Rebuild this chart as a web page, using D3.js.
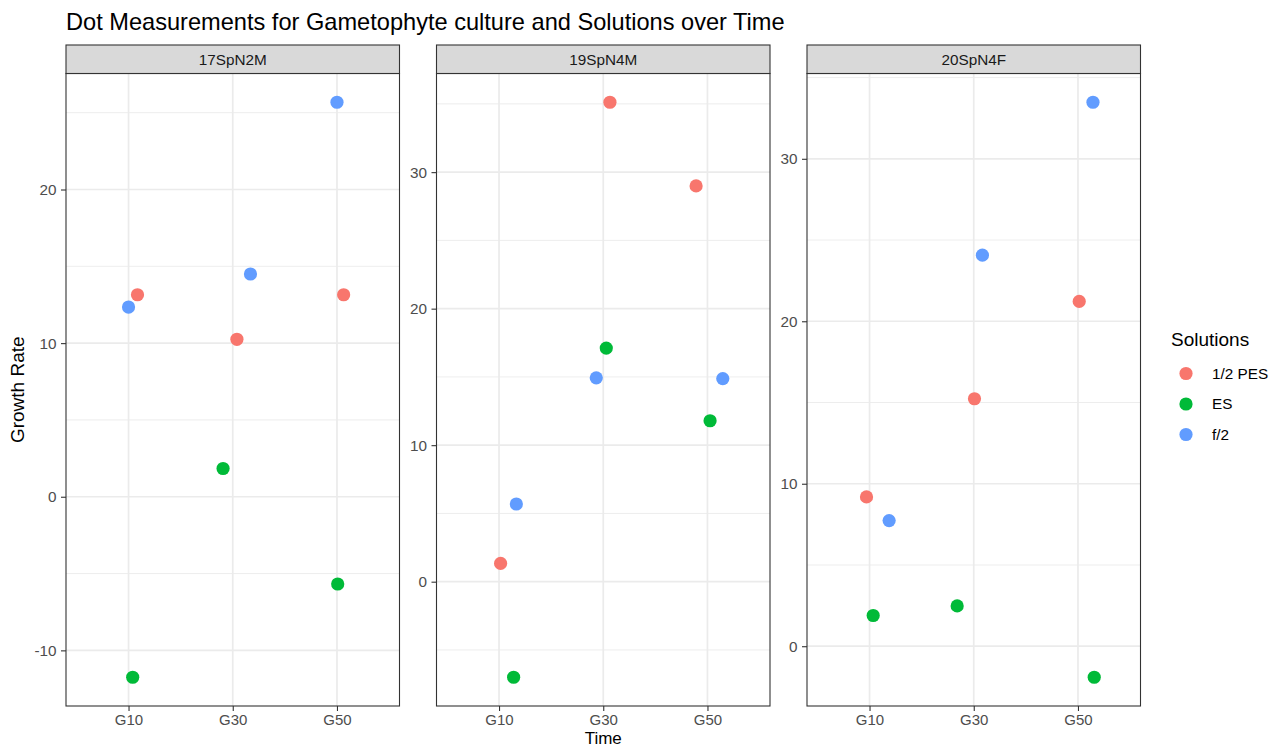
<!DOCTYPE html>
<html>
<head>
<meta charset="utf-8">
<script src="https://cdn.jsdelivr.net/npm/d3@7"></script>
<style>
  html, body { margin: 0; padding: 0; background: #fff; }
  svg { display: block; font-family: "Liberation Sans", Arial, sans-serif; }
</style>
</head>
<body>
<svg id="chart" width="1282" height="747"></svg>
<script>
// ---------------- data ----------------
const facets = ["17SpN2M", "19SpN4M", "20SpN4F"];
const times = ["G10", "G30", "G50"];
const solutions = ["1/2 PES", "ES", "f/2"];
const solutionColors = ["#F8766D", "#00BA38", "#619CFF"];

// growth rate, per facet, per time (G10, G30, G50)
const ratePES = [[13.15, 10.25, 13.15], [1.34, 35.12, 28.99], [9.19, 15.23, 21.22]];
const rateES  = [[-11.75, 1.84, -5.68], [-7.0, 17.11, 11.79], [1.89, 2.48, -1.91]];
const rateF2  = [[12.35, 14.5, 25.68], [5.69, 14.93, 14.88], [7.73, 24.07, 33.48]];

// horizontal jitter (category units), per facet, per time
const jitPES = [[0.086, 0.04, 0.064], [0.015, 0.064, -0.109], [-0.029, 0.007, 0.012]];
const jitES  = [[0.04, -0.093, 0.007], [0.14, 0.029, 0.025], [0.035, -0.159, 0.156]];
const jitF2  = [[0.0, 0.17, 0.0], [0.166, -0.067, 0.147], [0.188, 0.083, 0.144]];

const titleText = "Dot Measurements for Gametophyte culture and Solutions over Time";
const xTitle = "Time";
const yTitle = "Growth Rate";
const legendTitle = "Solutions";

// ---------------- build rows ----------------
const rates = [ratePES, rateES, rateF2];
const jits = [jitPES, jitES, jitF2];
const rows = [];
facets.forEach((f, fi) => {
  solutions.forEach((s, si) => {
    times.forEach((t, ti) => {
      rows.push({facet: f, fi, solution: s, si, time: t, value: rates[si][fi][ti], jit: jits[si][fi][ti]});
    });
  });
});

// ---------------- layout ----------------
const svg = d3.select("#chart");
const panelLefts = [66, 436.5, 807];
const panelW = 333.5;
const panelTop = 73.5, panelBottom = 706;
const stripTop = 45;
const grey20 = "#333333", grey30 = "#4D4D4D";
const gridCol = "#EBEBEB";

const color = d3.scaleOrdinal().domain(solutions).range(solutionColors);

// title
svg.append("text").attr("x", 66).attr("y", 30)
  .attr("font-size", 23.6).attr("fill", "#000").text(titleText);

facets.forEach((f, fi) => {
  const data = rows.filter(d => d.fi === fi);
  const g = svg.append("g").attr("transform", `translate(${panelLefts[fi]},0)`);

  const x = d3.scalePoint().domain(times).range([0, panelW]).padding(0.6);
  const ext = d3.extent(data, d => d.value);
  const pad = (ext[1] - ext[0]) * 0.05;
  const y = d3.scaleLinear().domain([ext[0] - pad, ext[1] + pad]).range([panelBottom, panelTop]);

  const major = y.ticks(4);
  const step = major[1] - major[0];
  const minor = d3.range(major[0] - step / 2, major[major.length - 1] + step, step)
    .filter(v => v >= y.domain()[0] && v <= y.domain()[1]);

  // background
  g.append("rect").attr("x", 0).attr("y", panelTop).attr("width", panelW)
    .attr("height", panelBottom - panelTop).attr("fill", "#fff");

  // minor grid
  g.selectAll(".minor").data(minor).enter().append("line")
    .attr("x1", 0).attr("x2", panelW)
    .attr("y1", d => y(d)).attr("y2", d => y(d))
    .attr("stroke", gridCol).attr("stroke-width", 0.9);
  // major grid
  g.selectAll(".majorY").data(major).enter().append("line")
    .attr("x1", 0).attr("x2", panelW)
    .attr("y1", d => y(d)).attr("y2", d => y(d))
    .attr("stroke", gridCol).attr("stroke-width", 1.7);
  g.selectAll(".majorX").data(times).enter().append("line")
    .attr("x1", d => x(d)).attr("x2", d => x(d))
    .attr("y1", panelTop).attr("y2", panelBottom)
    .attr("stroke", gridCol).attr("stroke-width", 1.7);

  // points
  g.selectAll("circle.pt").data(data).enter().append("circle")
    .attr("cx", d => x(d.time) + d.jit * x.step())
    .attr("cy", d => y(d.value))
    .attr("r", 6.6)
    .attr("fill", d => color(d.solution));

  // panel border
  g.append("rect").attr("x", 0).attr("y", panelTop).attr("width", panelW)
    .attr("height", panelBottom - panelTop).attr("fill", "none")
    .attr("stroke", grey20).attr("stroke-width", 1.1);

  // strip
  g.append("rect").attr("x", 0).attr("y", stripTop).attr("width", panelW)
    .attr("height", panelTop - stripTop).attr("fill", "#D9D9D9")
    .attr("stroke", grey20).attr("stroke-width", 1.1);
  g.append("text").attr("x", panelW / 2).attr("y", (stripTop + panelTop) / 2)
    .attr("dy", "0.35em").attr("text-anchor", "middle")
    .attr("font-size", 15.3).attr("fill", "#1A1A1A").text(f);

  // y axis
  const yAxis = d3.axisLeft(y).tickValues(major).tickSize(5).tickPadding(4.5)
    .tickFormat(d => String(d));
  const ya = g.append("g").call(yAxis);
  ya.select(".domain").remove();
  ya.selectAll(".tick line").attr("stroke", grey20).attr("stroke-width", 1.1);
  ya.selectAll(".tick text").attr("fill", grey30).attr("font-size", 15.3)
    .attr("font-family", "Liberation Sans, Arial, sans-serif");

  // x axis
  const xAxis = d3.axisBottom(x).tickSize(5).tickPadding(3.5);
  const xa = g.append("g").attr("transform", `translate(0,${panelBottom})`).call(xAxis);
  xa.select(".domain").remove();
  xa.selectAll(".tick line").attr("stroke", grey20).attr("stroke-width", 1.1);
  xa.selectAll(".tick text").attr("fill", grey30).attr("font-size", 15)
    .attr("font-family", "Liberation Sans, Arial, sans-serif");
});

// axis titles
svg.append("text").attr("x", panelLefts[1] + panelW / 2).attr("y", 743.8)
  .attr("text-anchor", "middle").attr("font-size", 17).attr("fill", "#000").text(xTitle);
svg.append("text")
  .attr("transform", `translate(24,${(panelTop + panelBottom) / 2}) rotate(-90)`)
  .attr("text-anchor", "middle").attr("font-size", 19).attr("fill", "#000").text(yTitle);

// legend
const lg = svg.append("g");
lg.append("text").attr("x", 1171).attr("y", 346).attr("font-size", 19).attr("fill", "#000").text(legendTitle);
solutions.forEach((s, i) => {
  const cy = 373.5 + i * 30.5;
  lg.append("circle").attr("cx", 1186).attr("cy", cy).attr("r", 6.6).attr("fill", color(s));
  lg.append("text").attr("x", 1212).attr("y", cy).attr("dy", "0.35em")
    .attr("font-size", 15.3).attr("fill", "#000").text(s);
});
</script>
</body>
</html>
